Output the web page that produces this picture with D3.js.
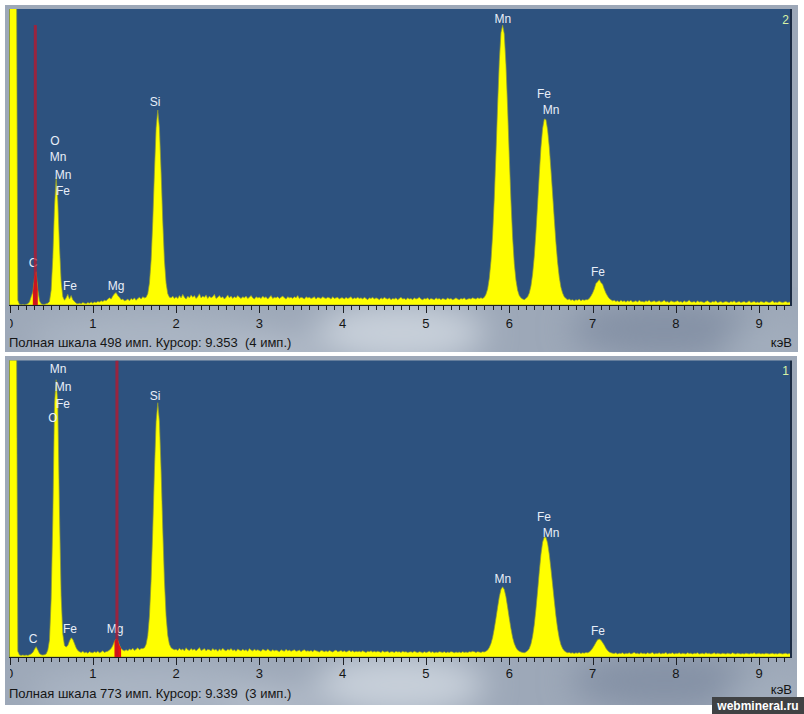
<!DOCTYPE html>
<html><head><meta charset="utf-8">
<script src="https://cdn.jsdelivr.net/npm/d3@7"></script>
<style>html,body{margin:0;padding:0;background:#fff;} svg{display:block;}</style>
</head><body>
<svg id="c" width="804" height="714"></svg>
<script>
// ---------------- DATA ----------------
const STEP_KEV = 0.02; // channel width of the arrays below (keV)

// Panel "2" (upper spectrum), counts per 0.02 keV channel from 0.00 keV
const countsTop = [
  999,999,999,999,700,8,1,0,1,0,
  1,2,5,14,22,46,56,26,7,2,
  1,1,2,3,6,25,80,165,215,175,
  100,40,14,8,12,18,10,16,9,6,
  3,2,3,2,4,3,2,4,3,5,
  3,5,4,6,5,7,6,8,7,10,
  12,10,15,19,21,16,13,9,10,7,
  8,10,7,11,9,12,8,11,13,10,
  14,12,13,19,37,75,141,224,298,328,
  298,224,141,75,37,19,13,12,15,11,
  14,11,16,12,18,13,10,15,12,17,
  13,16,11,14,19,12,15,13,17,11,
  15,12,14,18,11,13,16,12,14,10,
  13,17,12,15,11,14,12,16,13,11,
  14,12,15,11,13,16,12,10,14,12,
  13,11,15,12,14,10,13,16,11,13,
  12,14,11,13,15,12,10,14,12,13,
  11,14,12,16,11,13,12,10,14,12,
  13,11,12,14,10,13,12,11,14,12,
  11,13,12,10,14,11,12,13,10,12,
  12,10,13,11,12,14,10,12,11,13,
  11,12,10,13,11,9,12,11,13,10,
  12,11,9,12,10,13,11,10,12,9,
  11,10,12,9,11,13,10,11,9,12,
  10,11,9,12,10,11,13,10,9,11,
  10,12,9,11,10,9,12,10,11,9,
  11,10,9,12,10,11,9,10,12,10,
  9,11,10,12,9,10,11,10,12,11,
  10,12,11,12,11,13,18,27,45,74,
  118,180,255,337,410,458,471,456,405,332,
  250,176,114,70,42,25,16,12,10,9,
  11,14,20,32,52,82,123,170,220,265,
  297,313,312,295,266,228,187,145,105,72,
  47,30,20,14,11,9,10,8,9,7,
  9,8,10,7,9,8,9,9,11,15,
  20,27,36,39,43,38,35,27,20,15,
  11,9,7,8,6,7,5,8,6,7,
  5,7,6,8,5,6,7,5,8,6,
  6,5,7,6,8,5,6,7,5,6,
  7,5,6,8,5,6,4,7,6,5,
  6,7,5,6,4,7,5,6,8,5,
  5,6,4,7,5,6,5,4,6,7,
  5,4,6,5,7,4,5,6,4,5,
  6,5,4,6,5,7,4,5,6,4,
  5,6,4,5,7,4,5,6,4,5,
  4,6,5,4,6,5,4,5,7,4,
  5,4,6,5,4,5,6,4,5,4,
  5
];

// Panel "1" (lower spectrum)
const countsBottom = [
  1500,1500,1500,1500,1100,15,5,4,5,4,
  5,4,6,8,12,20,27,18,9,6,
  5,6,8,18,44,150,360,660,723,660,
  380,160,60,30,26,30,42,50,46,35,
  24,17,14,12,15,11,13,10,14,12,
  11,14,12,15,11,13,16,12,14,15,
  18,22,30,41,47,44,31,22,18,16,
  19,16,21,18,23,17,20,24,19,22,
  22,24,33,56,107,199,333,487,614,663,
  614,487,333,199,107,56,33,24,21,19,
  20,17,23,18,21,16,24,19,17,22,
  18,21,16,20,25,17,19,22,16,20,
  19,16,22,18,20,15,21,17,23,18,
  16,20,18,22,17,19,15,21,18,16,
  20,17,19,15,22,18,16,20,17,19,
  17,15,20,18,16,21,17,15,19,16,
  18,16,14,19,17,15,20,16,18,15,
  17,19,15,16,18,14,17,19,15,16,
  15,17,14,18,16,15,13,17,16,14,
  16,14,17,15,13,16,18,14,15,17,
  14,16,13,15,17,14,16,13,15,14,
  15,13,16,14,12,15,14,16,13,15,
  13,15,14,12,16,13,14,15,12,14,
  14,12,15,13,14,12,15,13,14,12,
  13,14,12,15,13,12,14,13,11,14,
  12,13,15,12,14,11,13,12,14,13,
  12,14,11,13,12,14,13,11,13,12,
  13,11,14,12,13,12,14,13,15,14,
  12,14,13,12,14,13,15,18,25,35,
  51,74,101,130,157,176,183,176,157,130,
  101,74,51,35,25,18,15,13,12,11,
  13,16,22,34,54,84,125,172,222,267,
  299,313,312,297,268,230,189,147,107,74,
  49,32,22,16,13,11,12,10,11,9,
  11,10,12,9,11,10,12,11,13,17,
  23,30,38,45,47,44,38,31,23,17,
  13,11,10,9,11,8,10,9,11,8,
  10,9,11,8,10,12,9,10,8,11,
  9,10,8,11,9,10,12,8,10,9,
  11,8,10,9,12,8,10,9,11,8,
  10,9,11,8,10,9,8,11,9,10,
  8,10,9,11,8,9,10,8,11,9,
  10,8,9,11,8,10,9,8,10,9,
  8,10,9,8,11,9,8,10,9,8,
  9,8,10,9,8,10,9,11,8,9,
  10,8,9,8,10,9,8,9,10,8,
  9,8,10,9,8,9,10,8,9,8,
  9
];

const fullScale = [498, 773];                 // "Полная шкала" (counts)
const energyMax = 9.37;                       // right edge of plot, keV
const tickLabels = ['0','1','2','3','4','5','6','7','8','9'];
const tickValues = [0,1,2,3,4,5,6,7,8,9];

// element labels: [text, keV, count level]
const labelsTop = [
  ['O',0.546,276],['Mn',0.582,249],['Mn',0.642,220],['Fe',0.642,193],
  ['C',0.282,71],['Fe',0.726,32],['Mg',1.279,32],['Si',1.747,342],
  ['Mn',5.924,481],['Fe',6.417,355],['Mn',6.501,328],['Fe',7.065,56]
];
const labelsBottom = [
  ['Mn',0.582,752],['Mn',0.642,705],['Fe',0.642,661],['O',0.522,624],
  ['Si',1.747,682],['C',0.282,47],['Fe',0.726,73],['Mg',1.267,73],
  ['Mn',5.924,204],['Fe',6.417,366],['Mn',6.501,324],['Fe',7.065,68]
];

const cursorKeV = [0.31, 1.29];
const cursorTopCounts = [471, 773];
const roiKeV = [[0.27, 0.35], [1.25, 1.34]];
const panelNumbers = ['2', '1'];
const footerText = ['Полная шкала 498 имп. Курсор: 9.353  (4 имп.)',
                    'Полная шкала 773 имп. Курсор: 9.339  (3 имп.)'];
const unitLabel = 'кэВ';
const watermark = 'webmineral.ru';

// ---------------- DRAWING ----------------
const FONT = '"Liberation Sans", Arial, Helvetica, sans-serif';
const svg = d3.select('#c');
const defs = svg.append('defs');
defs.append('filter').attr('id','blur').attr('x','-60%').attr('y','-60%').attr('width','220%').attr('height','220%')
  .append('feGaussianBlur').attr('stdDeviation', 16);

const layout = [
  {fy:5,   fh:347, fw:793, top:9,     bottom:305, tickY:327.8, footY:347.3, unitY:346.8, numY:23.5},
  {fy:356, fh:349, fw:792, top:360.5, bottom:657, tickY:678.3, footY:697.6, unitY:693.8, numY:374.5}
];
const x = d3.scaleLinear().domain([0, energyMax]).range([9.5, 790]);

const panels = [
  {counts: countsTop, scale: fullScale[0], labels: labelsTop, cursor: cursorKeV[0], cTop: cursorTopCounts[0], roi: roiKeV[0], num: panelNumbers[0], foot: footerText[0]},
  {counts: countsBottom, scale: fullScale[1], labels: labelsBottom, cursor: cursorKeV[1], cTop: cursorTopCounts[1], roi: roiKeV[1], num: panelNumbers[1], foot: footerText[1]}
];

panels.forEach((p, k) => {
  const L = layout[k];
  const g = svg.append('g');
  const y = d3.scaleLinear().domain([0, p.scale]).range([L.bottom, L.top]);

  defs.append('clipPath').attr('id','pc'+k).append('rect')
    .attr('x',9).attr('y',L.top).attr('width',781).attr('height',L.bottom-L.top);
  defs.append('clipPath').attr('id','fc'+k).append('rect')
    .attr('x',5).attr('y',L.fy).attr('width',L.fw).attr('height',L.fh);
  defs.append('clipPath').attr('id','tc'+k).append('rect')
    .attr('x',10).attr('y',L.bottom).attr('width',790).attr('height',40);

  // frame
  g.append('rect').attr('x',5).attr('y',L.fy).attr('width',L.fw).attr('height',L.fh).attr('fill','#9da8b8');
  const clouds = g.append('g').attr('clip-path',`url(#fc${k})`).append('g').attr('filter','url(#blur)');
  const cl = [
    [400, 28, 85, 30, '#c8d0da'], [150, 36, 120, 26, '#abb6c4'],
    [665, 24, 95, 30, '#8592a6'], [770, 40, 45, 22, '#a3aebd'], [270, 50, 50, 20, '#b4bdca']
  ];
  cl.forEach(c => clouds.append('ellipse').attr('cx',c[0]).attr('cy',L.bottom+c[1]).attr('rx',c[2]).attr('ry',c[3]).attr('fill',c[4]));

  // plot area
  g.append('rect').attr('x',9).attr('y',L.top).attr('width',781).attr('height',L.bottom-L.top).attr('fill','#2d527f');
  g.append('rect').attr('x',790).attr('y',L.top).attr('width',2).attr('height',L.bottom-L.top+1).attr('fill','#1a2a42');

  const pg = g.append('g').attr('clip-path',`url(#pc${k})`);
  const data = p.counts.map((c, i) => ({e: i*STEP_KEV, c}));
  const area = d3.area().x(d => x(d.e)).y0(L.bottom).y1(d => y(d.c));
  pg.append('path').datum(data).attr('d', area)
    .attr('fill','#ffff00').attr('stroke','#8e9a34').attr('stroke-width',0.7).attr('stroke-linejoin','round');

  // ROI (red) under spectrum around the marker
  const roiData = data.filter(d => d.e >= p.roi[0] && d.e <= p.roi[1]);
  pg.append('path').datum(roiData).attr('d', area).attr('fill','#e8160f');

  // element labels
  pg.selectAll('text.el').data(p.labels).enter().append('text')
    .attr('x', d => x(d[1])).attr('y', d => y(d[2])).attr('dy','0.36em')
    .attr('text-anchor','middle').attr('font-family',FONT).attr('font-size',12)
    .attr('fill','#e8eef8').text(d => d[0]);

  // cursor marker
  pg.append('line').attr('x1',x(p.cursor)).attr('x2',x(p.cursor))
    .attr('y1',y(p.cTop)).attr('y2',L.bottom)
    .attr('stroke','rgb(190,22,42)').attr('stroke-opacity',0.75).attr('stroke-width',3);

  // panel number
  g.append('text').attr('x',789).attr('y',L.numY).attr('text-anchor','end')
    .attr('font-family',FONT).attr('font-size',12).attr('fill','#d8f2a6').text(p.num);

  // axis line and ticks
  g.append('line').attr('x1',9).attr('x2',790).attr('y1',L.bottom+0.5).attr('y2',L.bottom+0.5)
    .attr('stroke','#1c1f24').attr('stroke-width',1);
  const minor = d3.range(0, Math.floor(energyMax*10)+1).map(i => i/10);
  g.selectAll('line.mt').data(minor).enter().append('line')
    .attr('x1', d => Math.round(x(d))+0.5).attr('x2', d => Math.round(x(d))+0.5)
    .attr('y1', L.bottom+1).attr('y2', d => L.bottom + (Math.abs(d - Math.round(d)) < 1e-6 ? 8 : 5))
    .attr('stroke','#1c1f24').attr('stroke-width',1);

  g.append('g').attr('clip-path',`url(#tc${k})`).selectAll('text').data(tickValues).enter().append('text')
    .attr('x', d => x(d)).attr('y', L.tickY).attr('text-anchor','middle')
    .attr('font-family',FONT).attr('font-size',13).attr('fill','#151515')
    .text((d,i) => tickLabels[i]);

  g.append('text').attr('x',9).attr('y',L.footY).attr('font-family',FONT).attr('font-size',13)
    .attr('fill','#151515').style('white-space','pre').text(p.foot);
  g.append('text').attr('x',792).attr('y',L.unitY).attr('text-anchor','end')
    .attr('font-family',FONT).attr('font-size',13).attr('fill','#151515').text(unitLabel);
});

// watermark
svg.append('rect').attr('x',712).attr('y',697).attr('width',92).attr('height',17).attr('fill','#404244');
svg.append('text').attr('x',758).attr('y',710).attr('text-anchor','middle')
  .attr('font-family',FONT).attr('font-size',12).attr('font-weight','bold').attr('fill','#ffffff').text(watermark);
</script>
</body></html>
